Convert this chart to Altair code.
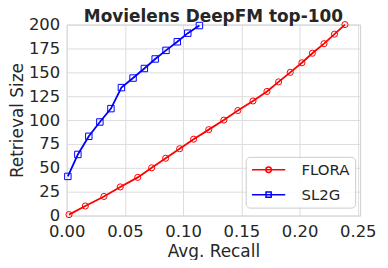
import altair as alt
import pandas as pd

flora_recall = [0.002, 0.016, 0.032, 0.046, 0.061, 0.073, 0.085, 0.097, 0.109, 0.122,
                0.135, 0.147, 0.160, 0.172, 0.182, 0.192, 0.202, 0.211, 0.221, 0.230, 0.239]
flora_size = [1, 10, 20, 30, 40, 50, 60, 70, 80, 90,
              100, 110, 120, 130, 140, 150, 160, 170, 180, 190, 200]
sl2g_recall = [0.001, 0.0096, 0.019, 0.0285, 0.038, 0.047, 0.057, 0.0667, 0.076,
               0.0853, 0.095, 0.104, 0.114]
sl2g_size = [41, 64, 83, 98, 112, 134, 144, 154, 164, 173, 182, 191, 199]

series_names = ["FLORA", "SL2G"]
series_colors = ["#ff0000", "#0000ff"]
x_ticks = [0.0, 0.05, 0.10, 0.15, 0.20, 0.25]
y_ticks = [0, 25, 50, 75, 100, 125, 150, 175, 200]

rows = []
for i, (r, s) in enumerate(zip(flora_recall, flora_size)):
    rows.append({"series": "FLORA", "recall": r, "size": s, "idx": i})
for i, (r, s) in enumerate(zip(sl2g_recall, sl2g_size)):
    rows.append({"series": "SL2G", "recall": r, "size": s, "idx": i})
df = pd.DataFrame(rows)

FONT = "DejaVu Sans"
TXT = "#262626"

x_enc = alt.X("recall:Q", title="Avg. Recall",
              scale=alt.Scale(domain=[0, 0.252], nice=False, zero=False),
              axis=alt.Axis(values=x_ticks, format=".2f", labelFlush=False,
                            labelPadding=8, titlePadding=4))
y_enc = alt.Y("size:Q", title="Retrieval Size",
              scale=alt.Scale(domain=[0, 200], nice=False),
              axis=alt.Axis(values=y_ticks, format="d", labelFlush=False,
                            labelPadding=7, titlePadding=2))

color_scale = alt.Scale(domain=series_names, range=series_colors)

base = alt.Chart(df)


def series_layers(name, color, shape, size):
    sub = base.transform_filter(alt.datum.series == name)
    ln = sub.mark_line(strokeWidth=1.8, color=color).encode(x=x_enc, y=y_enc, order="idx:Q")
    pt = sub.mark_point(shape=shape, filled=False, size=size, strokeWidth=1,
                        color=color, opacity=1).encode(x=x_enc, y=y_enc)
    return ln, pt


ln_f, pt_f = series_layers("FLORA", "#ff0000", "circle", 38)
ln_s, pt_s = series_layers("SL2G", "#0000ff", "square", 42)

path_f = "M-2.39,0H2.39M-0.39,0A0.39,0.39,0,1,0,0.39,0A0.39,0.39,0,1,0,-0.39,0"
path_s = "M-2.39,0H2.39M-0.37,-0.37H0.37V0.37H-0.37Z"

leg_def = alt.Legend(
    title=None, orient="none", legendX=180, legendY=133,
    symbolSize=196, symbolStrokeWidth=1.5, symbolOffset=10, labelOffset=25,
    labelFont=FONT, labelFontSize=15, labelColor=TXT,
    padding=5, rowPadding=9,
    fillColor="rgba(255,255,255,0.85)", strokeColor="#cccccc",
    cornerRadius=4,
)

leg = base.transform_filter("false").mark_point(
    filled=False, strokeWidth=1.5, size=196, opacity=1
).encode(
    x=x_enc, y=y_enc,
    color=alt.Color("series:N", scale=color_scale, legend=leg_def),
    shape=alt.Shape("series:N", scale=alt.Scale(domain=series_names, range=[path_f, path_s]),
                    legend=leg_def),
)

chart = alt.layer(ln_f, ln_s, pt_f, pt_s, leg).properties(
    width=295, height=192,
    title=alt.TitleParams("Movielens DeepFM top-100", font=FONT, fontSize=17,
                          fontWeight="bold", color=TXT, offset=-9, anchor="middle"),
    autosize=alt.AutoSizeParams(type="none"),
    padding={"left": 59, "top": 16, "right": 20, "bottom": 44},
).configure_axis(
    labelFont=FONT, labelFontSize=16.5, labelColor=TXT,
    titleFont=FONT, titleFontSize=17, titleFontWeight="normal", titleColor=TXT,
    grid=True, gridColor="#dcdcdc", gridWidth=1,
    domain=False, ticks=False, tickSize=0,
).configure_view(
    stroke="#d0d0d0", strokeWidth=1
)

chart.save("out.html", embed_options={"renderer": "svg", "actions": False})
